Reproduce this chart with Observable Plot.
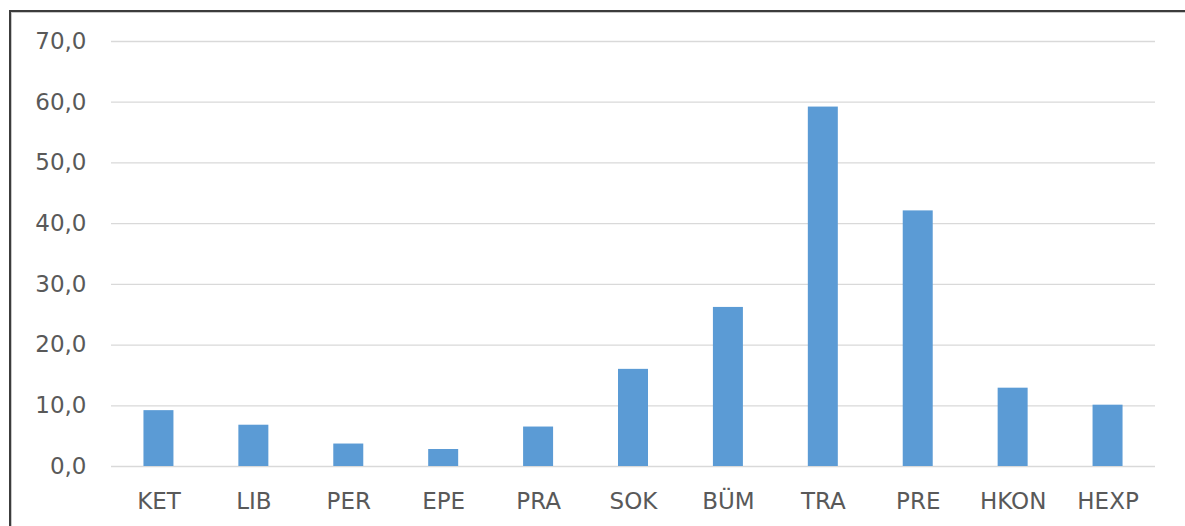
<!DOCTYPE html>
<html>
<head>
<meta charset="utf-8">
<script src="https://cdn.jsdelivr.net/npm/d3@7"></script>
<script src="https://cdn.jsdelivr.net/npm/@observablehq/plot@0.6"></script>
<style>
  html, body { margin: 0; padding: 0; background: #fff; overflow: hidden; }
  #wrap { position: relative; width: 1185px; height: 526px; }
  #frame { position: absolute; left: 9px; top: 10px; width: 1200px; height: 540px;
    border-top: 2px solid #3c3c3c; border-left: 2px solid #3c3c3c;
    box-shadow: inset 1px 1px 0 #c8c8c8; pointer-events: none; }
  #chart { position: absolute; left: 0; top: 0; }
</style>
</head>
<body>
<div id="wrap"><div id="chart"></div><div id="frame"></div></div>
<script>
const categories = ["KET", "LIB", "PER", "EPE", "PRA", "SOK", "BÜM", "TRA", "PRE", "HKON", "HEXP"];
const values = [9.2, 6.8, 3.7, 2.8, 6.5, 16.0, 26.2, 59.2, 42.1, 12.9, 10.1];
const yTicks = [0, 10, 20, 30, 40, 50, 60, 70];

const data = categories.map((c, i) => ({cat: c, value: values[i]}));

const chart = Plot.plot({
  width: 1185,
  height: 526,
  marginLeft: 111,
  marginRight: 30,
  marginTop: 41,
  marginBottom: 60,
  style: {fontFamily: "DejaVu Sans", fontSize: "23px", color: "#595959", background: "transparent"},
  x: {domain: categories, round: false, paddingInner: 0.684, paddingOuter: 0.342, label: null, tickSize: 0, tickPadding: 26},
  y: {domain: [0, 70], ticks: yTicks, tickFormat: d => d.toFixed(1).replace(".", ","), label: null, tickSize: 0, tickPadding: 25},
  marks: [
    Plot.ruleY(yTicks, {stroke: "#d9d9d9", strokeWidth: 1.3}),
    Plot.barY(data, {x: "cat", y: "value", fill: "#5b9bd5"})
  ]
});
document.getElementById("chart").appendChild(chart);
</script>
</body>
</html>
